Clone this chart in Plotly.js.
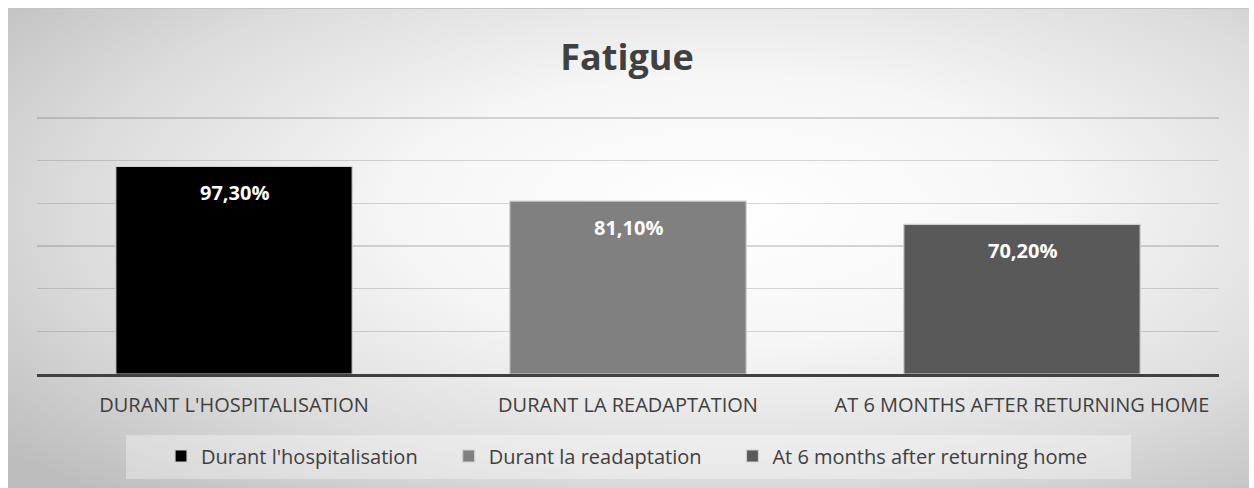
<!DOCTYPE html>
<html>
<head>
<meta charset="utf-8">
<script src="https://cdn.plot.ly/plotly-3.0.1.min.js"></script>
<style>
  html, body { margin: 0; padding: 0; background: #ffffff; }
  #bg {
    position: absolute; left: 8px; top: 8px; width: 1241px; height: 480px;
    background: radial-gradient(ellipse 75% 80% at 58% 42%, #ffffff 0%, #f6f6f6 35%, #dcdcdc 70%, #bdbdbd 100%);
    border-top: 1px solid #c4c4c4;
    box-sizing: border-box;
  }
  #legbg {
    position: absolute; left: 126px; top: 435px; width: 1005px; height: 44px;
    background: rgba(255,255,255,0.35);
  }
  #chart { position: absolute; left: 0; top: 0; width: 1254px; height: 488px; }
</style>
</head>
<body>
<div id="bg"></div>
<div id="legbg"></div>
<div id="chart"></div>
<script>
const categories = ["Durant l'hospitalisation", "Durant la readaptation", "At 6 months after returning home"];
const tickLabels = ["DURANT L'HOSPITALISATION", "DURANT LA READAPTATION", "AT 6 MONTHS AFTER RETURNING HOME"];
const values = [97.3, 81.1, 70.2];
const colors = ["#000000", "#808080", "#595959"];
const chartTitle = "Fatigue";

const FONT = "'Open Sans', 'Noto Sans', sans-serif";
const PAD = '\u00A0\u00A0\u00A0\u00A0\u00A0';

const traces = categories.map((name, i) => ({
  type: 'bar',
  name: i < categories.length - 1 ? name + PAD : name,
  x: [i],
  y: [values[i]],
  width: 0.6,
  marker: { color: colors[i], line: { color: '#d0d0d0', width: 1.2 } },
  hoverinfo: 'skip'
}));

const fmt = v => v.toFixed(2).replace('.', ',') + '%';

const annotations = values.map((v, i) => ({
  x: i, y: v, xref: 'x', yref: 'y',
  text: '<b>' + fmt(v) + '</b>',
  showarrow: false,
  yanchor: 'middle',
  yshift: -26,
  font: { family: FONT, size: 20, color: '#ffffff' }
}));

const layout = {
  width: 1254, height: 488,
  paper_bgcolor: 'rgba(0,0,0,0)',
  plot_bgcolor: 'rgba(0,0,0,0)',
  margin: { l: 37, r: 35, t: 117, b: 114 },
  title: {
    text: '<b>' + chartTitle + '</b>',
    x: 0.5, xref: 'container', xanchor: 'center',
    y: 1 - 57 / 488, yref: 'container', yanchor: 'middle',
    font: { family: FONT, size: 36, color: '#404040' }
  },
  barmode: 'overlay',
  xaxis: {
    type: 'linear',
    range: [-0.5, 2.5],
    tickvals: [0, 1, 2],
    ticktext: tickLabels,
    showgrid: false,
    zeroline: false,
    showline: true,
    linecolor: '#404040',
    linewidth: 3,
    ticks: '',
    ticklabelstandoff: 11,
    tickfont: { family: FONT, size: 20, color: '#404040' },
    fixedrange: true
  },
  yaxis: {
    range: [0, 120.5],
    dtick: 20,
    tick0: 0,
    showticklabels: false,
    showgrid: true,
    gridcolor: 'rgba(100,100,100,0.25)',
    gridwidth: 1.3,
    zeroline: false,
    showline: false,
    fixedrange: true
  },
  showlegend: true,
  legend: {
    orientation: 'h',
    x: 0.5, xref: 'container', xanchor: 'center',
    y: 1 - 456 / 488, yref: 'container', yanchor: 'middle',
    bgcolor: 'rgba(0,0,0,0)',
    font: { family: FONT, size: 20, color: '#404040' },
    itemclick: false, itemdoubleclick: false
  },
  annotations: annotations,
  hovermode: false
};

Plotly.newPlot('chart', traces, layout, { staticPlot: true, displayModeBar: false });
</script>
</body>
</html>
